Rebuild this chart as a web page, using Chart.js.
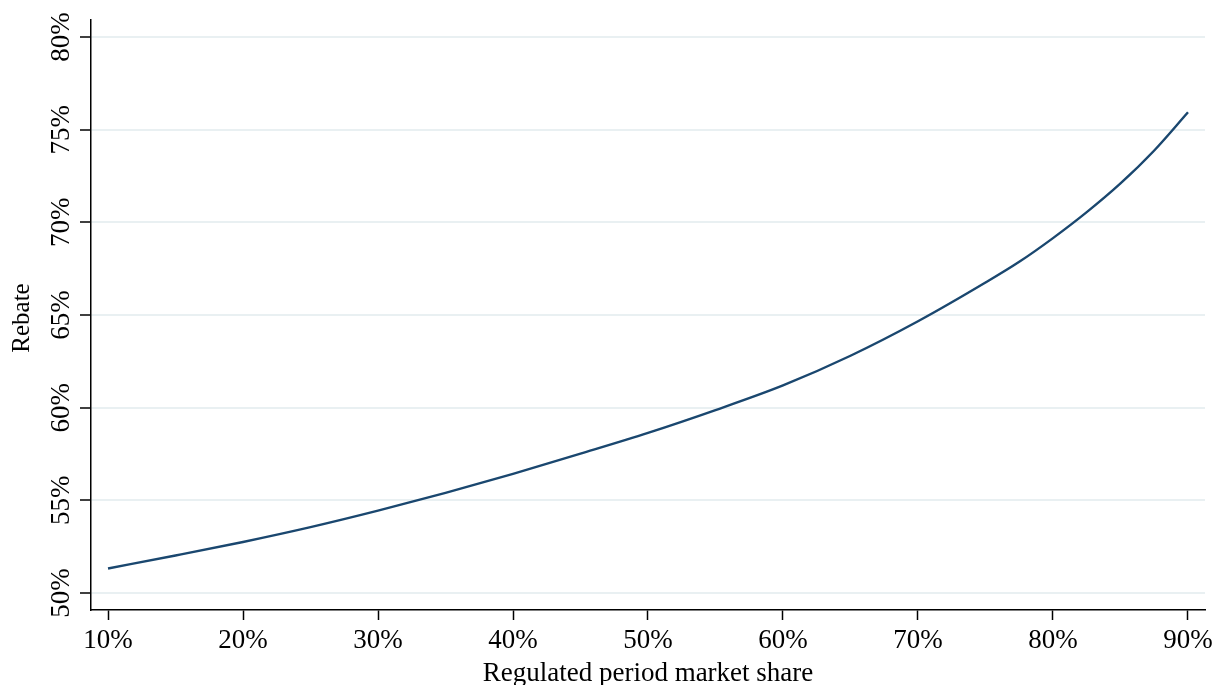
<!DOCTYPE html>
<html>
<head>
<meta charset="utf-8">
<script src="https://cdn.jsdelivr.net/npm/chart.js@4"></script>
<style>
  html, body { margin: 0; padding: 0; background: #fff; }
  #wrap { width: 1216px; height: 685px; position: relative; }
</style>
</head>
<body>
<div id="wrap"><canvas id="c"></canvas></div>
<script>
// Regulated period market share (%) and the resulting rebate (%)
const marketShare = [10, 15, 20, 25, 30, 35, 40, 45, 50, 55, 60, 65, 70, 75, 77.5, 80, 82.5, 85, 87.5, 90];
const rebate      = [51.32, 52.02, 52.75, 53.55, 54.44, 55.40, 56.43, 57.52, 58.64, 59.87, 61.20, 62.80, 64.66, 66.75, 67.87, 69.15, 70.55, 72.10, 73.88, 75.94];

const xTicks = [10, 20, 30, 40, 50, 60, 70, 80, 90];
const yTicks = [50, 55, 60, 65, 70, 75, 80];

const xTitle = 'Regulated period market share';
const yTitle = 'Rebate';

const FONT = '"Liberation Serif", "DejaVu Serif", serif';
const INK = '#000000';

// Rotated y tick labels and axis titles
const textPlugin = {
  id: 'axisText',
  afterDraw(chart) {
    const ctx = chart.ctx;
    const y = chart.scales.y;
    const x = chart.scales.x;
    ctx.save();
    ctx.fillStyle = INK;
    ctx.font = '27px ' + FONT;
    ctx.textAlign = 'center';
    ctx.textBaseline = 'alphabetic';
    yTicks.forEach(v => {
      const py = y.getPixelForValue(v);
      ctx.save();
      ctx.translate(69, py);
      ctx.rotate(-Math.PI / 2);
      ctx.fillText(v + '%', 0, 0);
      ctx.restore();
    });
    // y title
    ctx.save();
    ctx.translate(29, (y.top + y.bottom) / 2 + 3);
    ctx.rotate(-Math.PI / 2);
    ctx.font = '25px ' + FONT;
    ctx.fillText(yTitle, 0, 0);
    ctx.restore();
    // x title
    ctx.font = '27px ' + FONT;
    ctx.fillText(xTitle, (x.left + x.right) / 2, 681);
    ctx.restore();
  }
};

new Chart(document.getElementById('c'), {
  type: 'line',
  data: {
    datasets: [{
      data: marketShare.map((s, i) => ({ x: s, y: rebate[i] })),
      borderColor: '#1a476f',
      borderWidth: 2.4,
      pointRadius: 0,
      cubicInterpolationMode: 'monotone',
      fill: false
    }]
  },
  options: {
    responsive: true,
    maintainAspectRatio: false,
    animation: false,
    layout: { padding: { top: 20, right: 11, left: 0, bottom: 0 } },
    plugins: { legend: { display: false }, tooltip: { enabled: false } },
    scales: {
      x: {
        type: 'linear',
        min: 8.74,
        max: 91.26,
        afterBuildTicks: s => { s.ticks = xTicks.map(v => ({ value: v })); },
        afterFit: s => { s.height = 75; s.paddingLeft = 0; s.paddingRight = 0; },
        border: { color: INK, width: 1.5 },
        grid: { drawOnChartArea: false, tickColor: INK, tickLength: 10, tickWidth: 1.5 },
        ticks: {
          color: INK,
          font: { family: FONT, size: 27 },
          padding: 5,
          maxRotation: 0,
          callback: v => v + '%'
        }
      },
      y: {
        type: 'linear',
        min: 49.08,
        max: 80.92,
        afterBuildTicks: s => { s.ticks = yTicks.map(v => ({ value: v })); },
        afterFit: s => { s.width = 91; s.paddingTop = 0; s.paddingBottom = 0; },
        border: { color: INK, width: 1.5 },
        grid: { color: '#e9f0f2', lineWidth: 2, tickColor: INK, tickLength: 11, tickWidth: 1.5 },
        ticks: { display: false }
      }
    }
  },
  plugins: [textPlugin]
});
</script>
</body>
</html>
